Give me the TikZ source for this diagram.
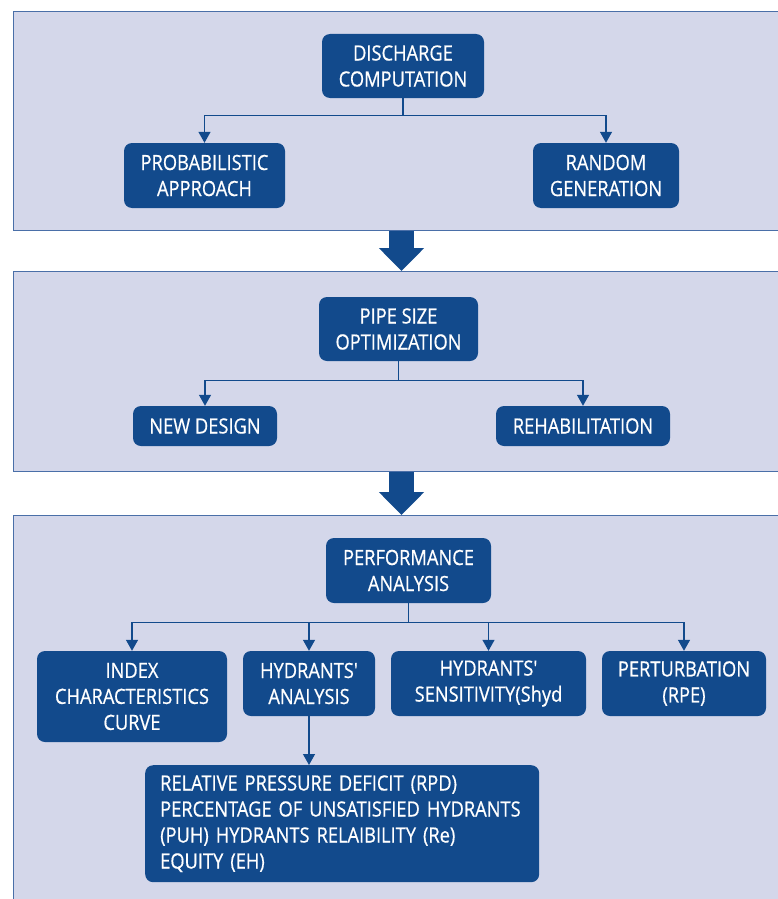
\documentclass[tikz,border=0pt]{standalone}
\usepackage{fontspec}
\setmainfont{Open Sans}[FakeStretch=0.87, FakeBold=0.6, Ligatures=TeXOff]
\usetikzlibrary{arrows.meta,calc}

\definecolor{boxblue}{HTML}{124A8C}
\definecolor{panelfill}{HTML}{D4D7EA}
\definecolor{panelline}{HTML}{4A6FA8}

\tikzset{
  panel/.style={draw=panelline, line width=1.4pt, fill=panelfill, rectangle, inner sep=0pt},
  blk/.style={fill=boxblue, rounded corners=8pt, text=white, align=center,
              inner sep=0pt, font=\fontsize{21}{26}\selectfont},
  conn/.style={draw=boxblue, line width=1.3pt, -{Triangle[width=12pt,length=11pt]}},
  bigarrow/.style={draw=boxblue, line width=25pt, -{Triangle[width=44pt,length=23pt]}},
}

\begin{document}
\begin{tikzpicture}[x=1pt,y=-1pt]
\useasboundingbox (0,0) rectangle (777,899);

% stage panels (they run past the right and lower edges)
\node[panel, minimum width=790pt, minimum height=219pt, anchor=north west] (p1) at (13,11) {};
\node[panel, minimum width=790pt, minimum height=200pt, anchor=north west] (p2) at (13,271) {};
\node[panel, minimum width=790pt, minimum height=400pt, anchor=north west] (p3) at (13,515) {};

% stage 1
\node[blk, minimum width=162pt, minimum height=64pt] (disc) at (403,66) {DISCHARGE\\COMPUTATION};
\node[blk, minimum width=161pt, minimum height=65pt] (prob) at (204.5,175.5) {PROBABILISTIC\\APPROACH};
\node[blk, minimum width=146pt, minimum height=65pt] (rand) at (606,175.5) {RANDOM\\GENERATION};

% stage 2
\node[blk, minimum width=159pt, minimum height=64pt] (pipe) at (398.5,329) {PIPE SIZE\\OPTIMIZATION};
\node[blk, minimum width=144pt, minimum height=40pt] (newd) at (205,426) {NEW DESIGN};
\node[blk, minimum width=174pt, minimum height=40pt] (rehab) at (583,426) {REHABILITATION};

% stage 3
\node[blk, minimum width=165pt, minimum height=65pt] (perf) at (408.5,570.5) {PERFORMANCE\\ANALYSIS};
\node[blk, minimum width=190pt, minimum height=91pt] (index) at (132,696.5) {INDEX\\CHARACTERISTICS\\CURVE};
\node[blk, minimum width=132pt, minimum height=65pt] (hyda) at (309,683.5) {HYDRANTS'\\ANALYSIS};
\node[blk, minimum width=195pt, minimum height=65pt] (hyds) at (488.5,683.5) {HYDRANTS'\\SENSITIVITY(Shyd};
\node[blk, minimum width=164pt, minimum height=65pt] (pert) at (684,683.5) {PERTURBATION\\(RPE)};
\node[blk, align=left, anchor=north west, minimum width=394pt, minimum height=117pt,
      text width=379pt] (ind) at (145,765)
  {\hspace*{7.5pt}RELATIVE PRESSURE DEFICIT (RPD)\\
   \hspace*{7.5pt}PERCENTAGE OF UNSATISFIED HYDRANTS\\
   \hspace*{7.5pt}(PUH) HYDRANTS RELAIBILITY (Re)\\
   \hspace*{7.5pt}EQUITY (EH)};

% branching connectors: drop from the parent, run along a bus, drop to each child
\coordinate (j1) at ($(disc.south)+(0,17)$);
\draw[conn] (disc.south) -- (j1) -| (prob.north);
\draw[conn] (disc.south) -- (j1) -| (rand.north);

\coordinate (j2) at ($(pipe.south)+(0,19)$);
\draw[conn] (pipe.south) -- (j2) -| (newd.north);
\draw[conn] (pipe.south) -- (j2) -| (rehab.north);

\coordinate (j3) at ($(perf.south)+(0,19)$);
\draw[conn] (perf.south) -- (j3) -| (index.north);
\draw[conn] (perf.south) -- (j3) -| (hyda.north);
\draw[conn] (perf.south) -- (j3) -| (hyds.north);
\draw[conn] (perf.south) -- (j3) -| (pert.north);

\draw[conn] (hyda.south) -- (hyda.south |- ind.north);

% stage-to-stage arrows
\coordinate (axis) at (401.5,0);
\draw[bigarrow] (p1.south -| axis) -- (p2.north -| axis);
\draw[bigarrow] (p2.south -| axis) -- (p3.north -| axis);
\end{tikzpicture}
\end{document}
